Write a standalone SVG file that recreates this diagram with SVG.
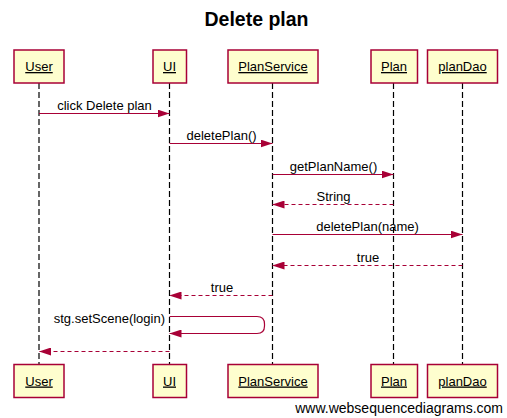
<svg xmlns="http://www.w3.org/2000/svg" width="507" height="418" viewBox="0 0 507 418">
<style>
.box{fill:#fefece;stroke:#a80036;stroke-width:1.5}
.life{stroke:#000;stroke-width:1.2;stroke-dasharray:6,3;fill:none}
.lbl{font-family:"Liberation Sans",Arial,sans-serif;font-size:13px;fill:#000;text-anchor:middle;text-decoration:underline}
.msg{stroke:#a80036;stroke-width:1.2;fill:none}
.ret{stroke:#a80036;stroke-width:1.2;fill:none;stroke-dasharray:4,3}
.mt{font-family:"Liberation Sans",Arial,sans-serif;font-size:13px;fill:#000;text-anchor:middle}
</style>
<defs>
<marker id="arr" markerUnits="userSpaceOnUse" markerWidth="12" markerHeight="8" refX="12" refY="4" orient="auto" viewBox="0 0 12 8">
<path d="M0,0 L12,4 L0,8 z" fill="#a80036"/>
</marker>
</defs>
<rect width="507" height="418" fill="#fff"/>
<text x="256.5" y="26" font-family="'Liberation Sans',Arial,sans-serif" font-size="19.5" font-weight="bold" text-anchor="middle">Delete plan</text>

<g id="User">
<line class="life" x1="39" y1="83" x2="39" y2="364"/>
<rect class="box" x="14" y="50" width="50" height="33"/>
<text class="lbl" x="39" y="71">User</text>
<rect class="box" x="14" y="364.5" width="50" height="33"/>
<text class="lbl" x="39" y="385.5">User</text>
</g>
<g id="UI">
<line class="life" x1="169.5" y1="83" x2="169.5" y2="364"/>
<rect class="box" x="153" y="50" width="33.5" height="33"/>
<text class="lbl" x="169.5" y="71">UI</text>
<rect class="box" x="153" y="364.5" width="33.5" height="33"/>
<text class="lbl" x="169.5" y="385.5">UI</text>
</g>
<g id="PlanService">
<line class="life" x1="272.5" y1="83" x2="272.5" y2="364"/>
<rect class="box" x="228" y="50" width="90" height="33"/>
<text class="lbl" x="273" y="71">PlanService</text>
<rect class="box" x="228" y="364.5" width="90" height="33"/>
<text class="lbl" x="273" y="385.5">PlanService</text>
</g>
<g id="Plan">
<line class="life" x1="393.5" y1="83" x2="393.5" y2="364"/>
<rect class="box" x="371" y="50" width="46.5" height="33"/>
<text class="lbl" x="394" y="71">Plan</text>
<rect class="box" x="371" y="364.5" width="46.5" height="33"/>
<text class="lbl" x="394" y="385.5">Plan</text>
</g>
<g id="planDao">
<line class="life" x1="462.5" y1="83" x2="462.5" y2="364"/>
<rect class="box" x="427.5" y="50" width="70" height="33"/>
<text class="lbl" x="462.5" y="71">planDao</text>
<rect class="box" x="427.5" y="364.5" width="70" height="33"/>
<text class="lbl" x="462.5" y="385.5">planDao</text>
</g>

<g id="connectors">
<line class="msg" x1="39" y1="113.5" x2="169.5" y2="113.5" marker-end="url(#arr)"/>
<text class="mt" x="104.5" y="109.5">click Delete plan</text>
<line class="msg" x1="169.5" y1="143.5" x2="272.5" y2="143.5" marker-end="url(#arr)"/>
<text class="mt" x="221.5" y="139.5">deletePlan()</text>
<line class="msg" x1="272.5" y1="174.5" x2="393.5" y2="174.5" marker-end="url(#arr)"/>
<text class="mt" x="333.5" y="170.5">getPlanName()</text>
<line class="ret" x1="393.5" y1="204.5" x2="272.5" y2="204.5" marker-end="url(#arr)"/>
<text class="mt" x="333.5" y="200.5">String</text>
<line class="msg" x1="272.5" y1="234.5" x2="462.5" y2="234.5" marker-end="url(#arr)"/>
<text class="mt" x="367.5" y="230.5">deletePlan(name)</text>
<line class="ret" x1="462.5" y1="265.5" x2="272.5" y2="265.5" marker-end="url(#arr)"/>
<text class="mt" x="368" y="261.5">true</text>
<line class="ret" x1="272.5" y1="295.5" x2="169.5" y2="295.5" marker-end="url(#arr)"/>
<text class="mt" x="222" y="291.5">true</text>
<path class="msg" d="M169.5,316.5 H257 Q264.5,316.5 264.5,324 V326 Q264.5,333.5 257,333.5 H169.5" marker-end="url(#arr)"/>
<text class="mt" x="165" y="322.5" text-anchor="end" style="text-anchor:end">stg.setScene(login)</text>
<line class="ret" x1="169.5" y1="351.5" x2="39" y2="351.5" marker-end="url(#arr)"/>
</g>

<text x="503" y="413" font-family="'Liberation Sans',Arial,sans-serif" font-size="14" text-anchor="end">www.websequencediagrams.com</text>
</svg>
